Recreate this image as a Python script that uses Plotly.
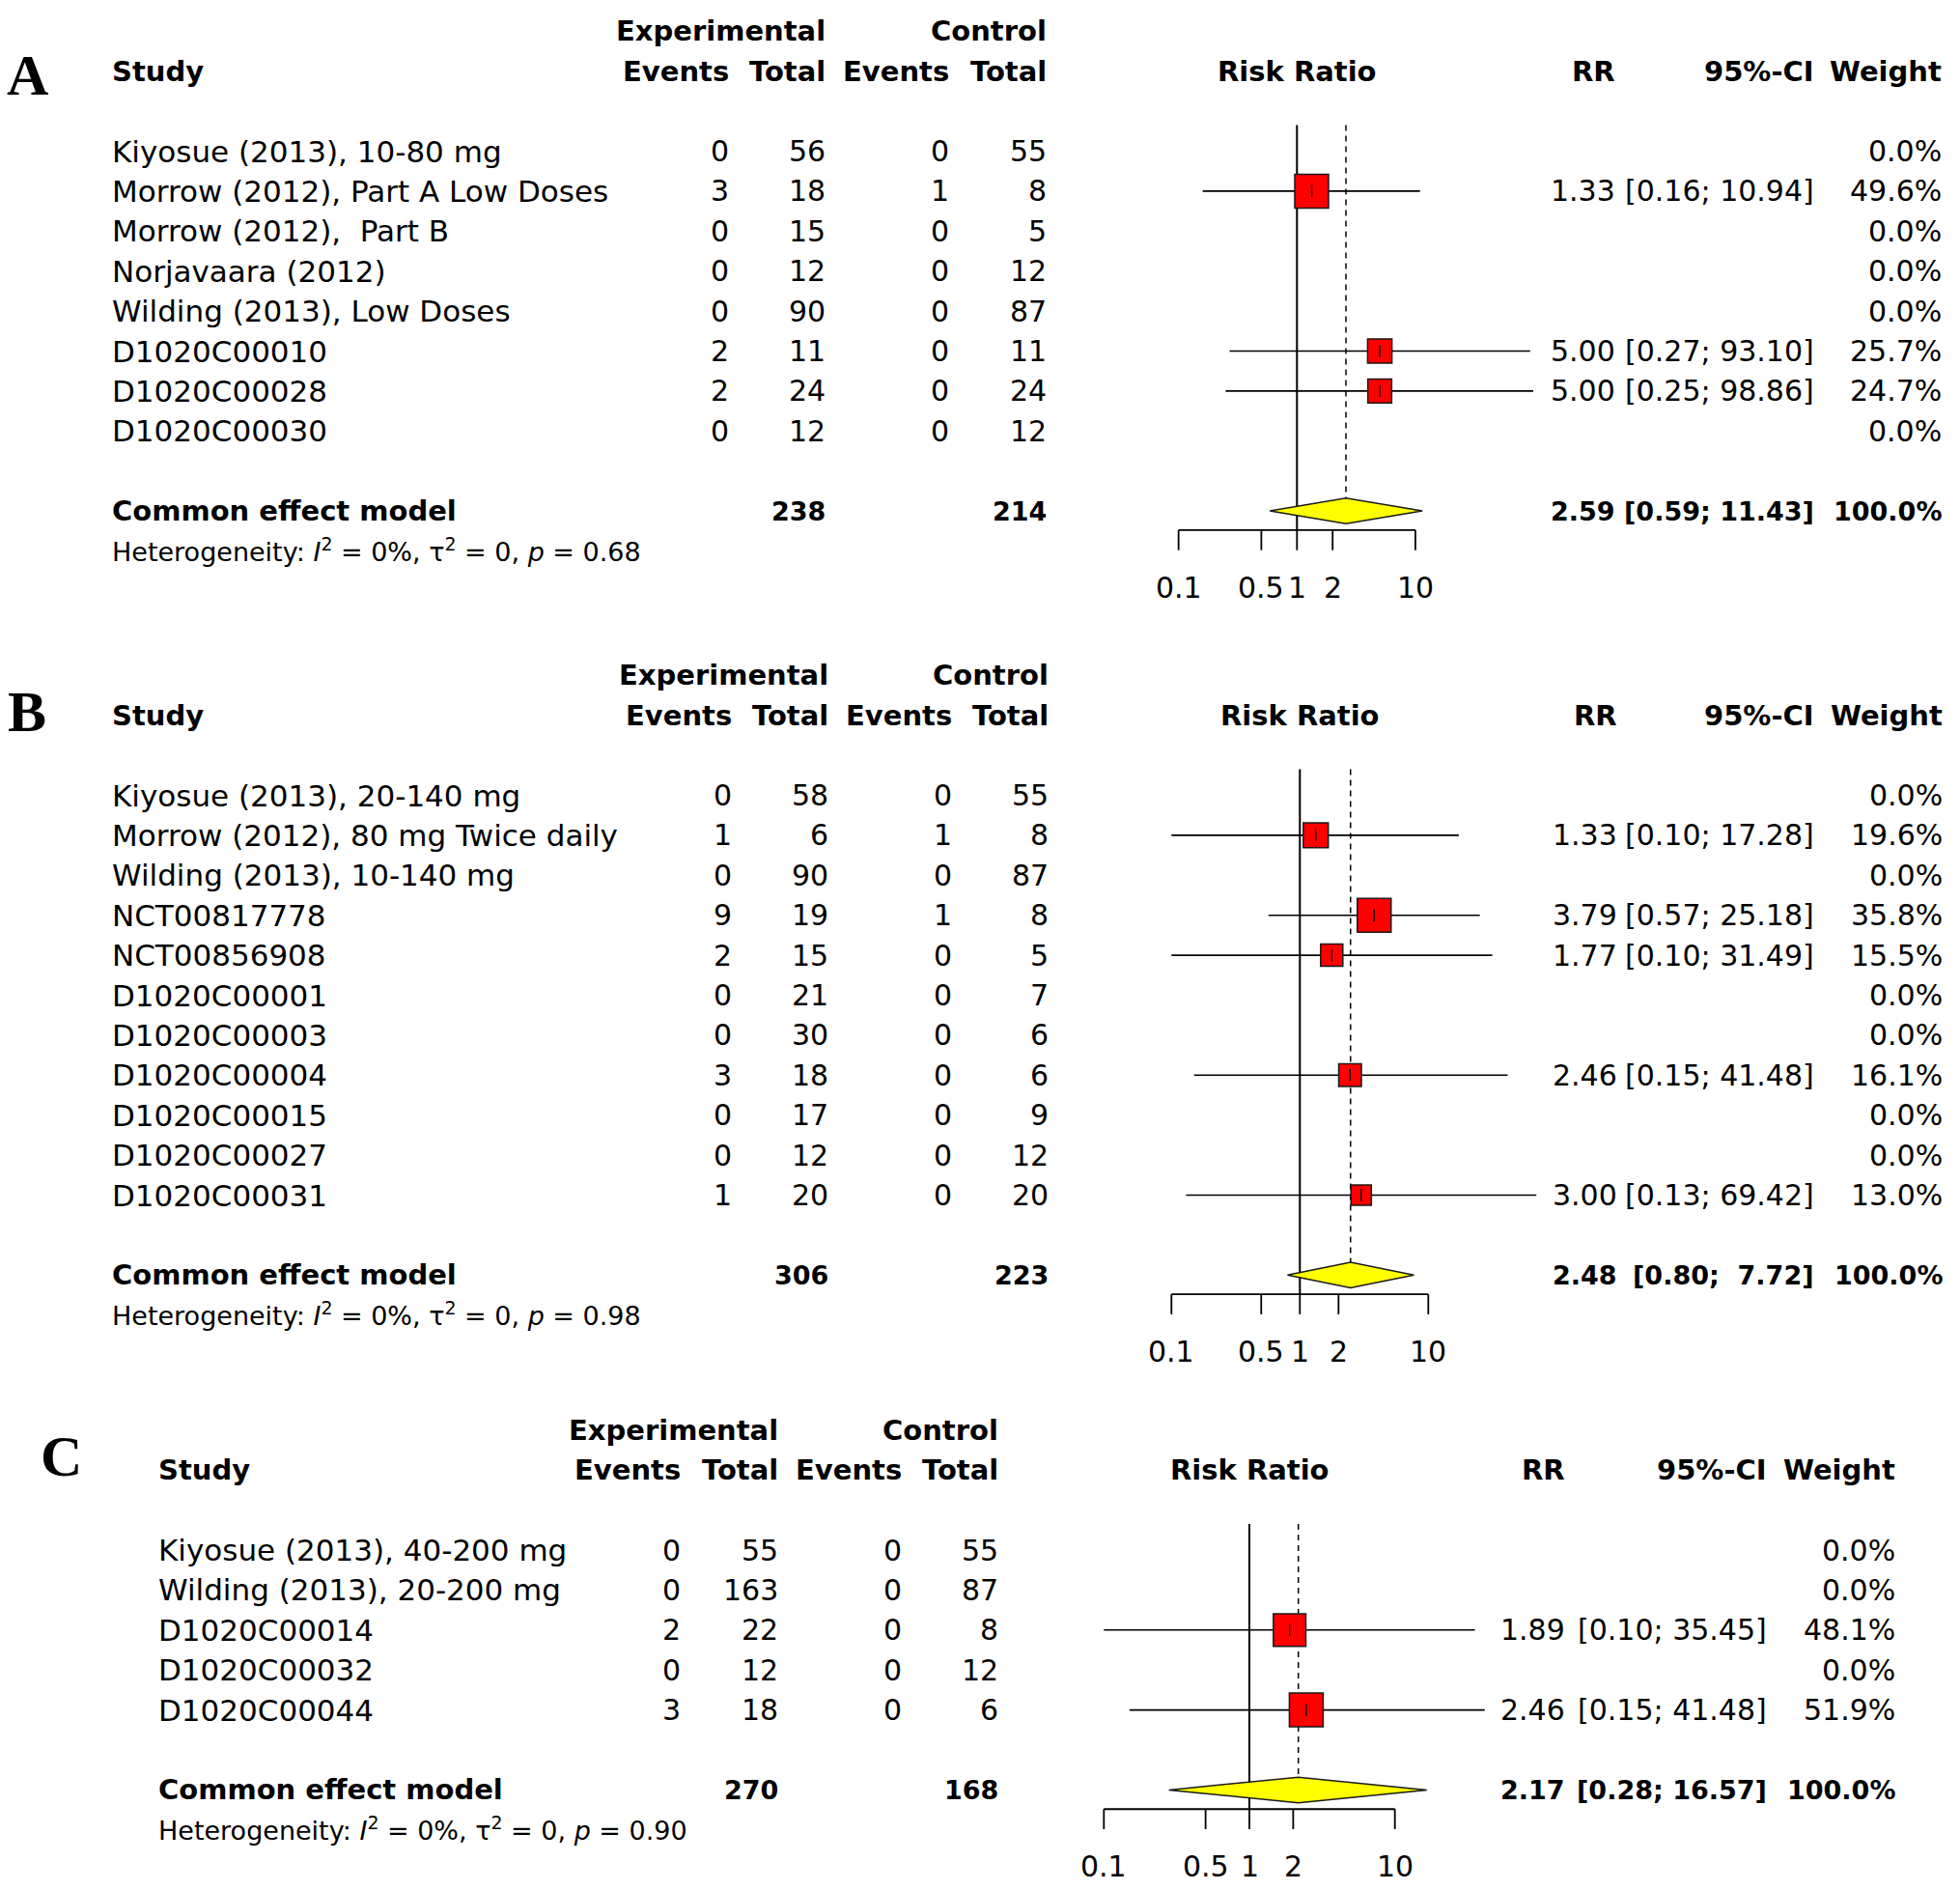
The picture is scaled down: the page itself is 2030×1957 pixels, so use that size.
import numpy as np
import plotly.graph_objects as go

W, H = 2030, 1957
FONT = "DejaVu Sans"
FS = 30        # regular numbers
FS_NAME = 31   # study names
FS_HET = 27    # heterogeneity line
FS_B = 29      # bold labels
FS_BN = 27     # bold numbers

# ---------------- data: panel A ----------------
study_a = ["Kiyosue (2013), 10-80 mg", "Morrow (2012), Part A Low Doses", "Morrow (2012),\u00a0 Part B",
           "Norjavaara (2012)", "Wilding (2013), Low Doses", "D1020C00010", "D1020C00028", "D1020C00030"]
exp_ev_a = [0, 3, 0, 0, 0, 2, 2, 0]
exp_tot_a = [56, 18, 15, 12, 90, 11, 24, 12]
ctl_ev_a = [0, 1, 0, 0, 0, 0, 0, 0]
ctl_tot_a = [55, 8, 5, 12, 87, 11, 24, 12]
rr_a = [None, 1.33, None, None, None, 5.00, 5.00, None]
lo_a = [None, 0.16, None, None, None, 0.27, 0.25, None]
hi_a = [None, 10.94, None, None, None, 93.10, 98.86, None]
wt_a = [0.0, 49.6, 0.0, 0.0, 0.0, 25.7, 24.7, 0.0]
pooled_a = [2.59, 0.59, 11.43]
het_a = [0, 0, 0.68]  # I2 (%), tau2, p

# ---------------- data: panel B ----------------
study_b = ["Kiyosue (2013), 20-140 mg", "Morrow (2012), 80 mg Twice daily", "Wilding (2013), 10-140 mg",
           "NCT00817778", "NCT00856908", "D1020C00001", "D1020C00003", "D1020C00004",
           "D1020C00015", "D1020C00027", "D1020C00031"]
exp_ev_b = [0, 1, 0, 9, 2, 0, 0, 3, 0, 0, 1]
exp_tot_b = [58, 6, 90, 19, 15, 21, 30, 18, 17, 12, 20]
ctl_ev_b = [0, 1, 0, 1, 0, 0, 0, 0, 0, 0, 0]
ctl_tot_b = [55, 8, 87, 8, 5, 7, 6, 6, 9, 12, 20]
rr_b = [None, 1.33, None, 3.79, 1.77, None, None, 2.46, None, None, 3.00]
lo_b = [None, 0.10, None, 0.57, 0.10, None, None, 0.15, None, None, 0.13]
hi_b = [None, 17.28, None, 25.18, 31.49, None, None, 41.48, None, None, 69.42]
wt_b = [0.0, 19.6, 0.0, 35.8, 15.5, 0.0, 0.0, 16.1, 0.0, 0.0, 13.0]
pooled_b = [2.48, 0.80, 7.72]
het_b = [0, 0, 0.98]

# ---------------- data: panel C ----------------
study_c = ["Kiyosue (2013), 40-200 mg", "Wilding (2013), 20-200 mg", "D1020C00014", "D1020C00032", "D1020C00044"]
exp_ev_c = [0, 0, 2, 0, 3]
exp_tot_c = [55, 163, 22, 12, 18]
ctl_ev_c = [0, 0, 0, 0, 0]
ctl_tot_c = [55, 87, 8, 12, 6]
rr_c = [None, None, 1.89, None, 2.46]
lo_c = [None, None, 0.10, None, 0.15]
hi_c = [None, None, 35.45, None, 41.48]
wt_c = [0.0, 0.0, 48.1, 0.0, 51.9]
pooled_c = [2.17, 0.28, 16.57]
het_c = [0, 0, 0.90]

tick_vals = [0.1, 0.5, 1, 2, 10]
tick_text = ["0.1", "0.5", "1", "2", "10"]

# ---------------- layout of each panel (pixels) ----------------
STEP = 41.4
panels = [
    dict(letter="A", letter_x=28, letter_y=78, study_x=114, ev1=757, tot1=857, ev2=985, tot2=1086,
         rr=1675, ci=1881, wt=2013, ax_c=1343.3, ax_d=122.65, row1=156.5, band=(0, 655),
         data=(study_a, exp_ev_a, exp_tot_a, ctl_ev_a, ctl_tot_a, rr_a, lo_a, hi_a, wt_a, pooled_a, het_a)),
    dict(letter="B", letter_x=28, letter_y=737, study_x=114, ev1=760, tot1=860, ev2=988, tot2=1088,
         rr=1677, ci=1881, wt=2014, ax_c=1346.3, ax_d=133.0, row1=823.5, band=(655, 1440),
         data=(study_b, exp_ev_b, exp_tot_b, ctl_ev_b, ctl_tot_b, rr_b, lo_b, hi_b, wt_b, pooled_b, het_b)),
    dict(letter="C", letter_x=64, letter_y=1508, study_x=162, ev1=707, tot1=808, ev2=936, tot2=1036,
         rr=1623, ci=1832, wt=1965, ax_c=1294.0, ax_d=150.7, row1=1605, band=(1440, H),
         data=(study_c, exp_ev_c, exp_tot_c, ctl_ev_c, ctl_tot_c, rr_c, lo_c, hi_c, wt_c, pooled_c, het_c)),
]

fig = go.Figure()
annotations = []
layout_axes = {}


def txt(s, x, y, yref, anchor="right", bold=False, size=FS, family=FONT, xref="paper"):
    annotations.append(dict(
        text=f"<b>{s}</b>" if bold else s, x=x / W if xref == "paper" else x, y=y,
        xref=xref, yref=yref, xanchor=anchor, yanchor="middle", showarrow=False,
        font=dict(family=family, size=size, color="black")))


for i, p in enumerate(panels, start=1):
    study, eev, etot, cev, ctot, rr, lo, hi, wt, pooled, het = p["data"]
    n = len(study)
    xa = "x" if i == 1 else f"x{i}"
    ya = "y" if i == 1 else f"y{i}"
    top, bot = p["band"]
    row_at = lambda pix: 1 + (pix - p["row1"]) / STEP
    layout_axes["xaxis" if i == 1 else f"xaxis{i}"] = dict(
        type="log", domain=[0, 1], anchor=ya, visible=False,
        range=[(0 - p["ax_c"]) / p["ax_d"], (W - p["ax_c"]) / p["ax_d"]])
    layout_axes["yaxis" if i == 1 else f"yaxis{i}"] = dict(
        domain=[1 - bot / H, 1 - top / H], anchor=xa, visible=False,
        range=[row_at(bot), row_at(top)])

    rows = list(range(1, n + 1))
    r_pool = n + 2
    r_axis = n + 2.48
    est, plo, phi = pooled

    # reference line at 1 and dashed pooled line
    fig.add_trace(go.Scatter(x=[1, 1], y=[0.35, r_axis], mode="lines", xaxis=xa, yaxis=ya,
                             line=dict(color="black", width=2), hoverinfo="skip"))
    fig.add_trace(go.Scatter(x=[est, est], y=[0.35, r_pool - 0.32], mode="lines", xaxis=xa, yaxis=ya,
                             line=dict(color="black", width=1.5, dash="6px,5px"), hoverinfo="skip"))

    # confidence intervals
    cx, cy = [], []
    for r, a, b in zip(rows, lo, hi):
        if a is not None:
            cx += [a, b, None]
            cy += [r, r, None]
    fig.add_trace(go.Scatter(x=cx, y=cy, mode="lines", xaxis=xa, yaxis=ya,
                             line=dict(color="black", width=1.6), hoverinfo="skip"))

    # weighted squares
    sx = [v for v in rr if v is not None]
    sy = [r for r, v in zip(rows, rr) if v is not None]
    sw = np.array([w for w, v in zip(wt, rr) if v is not None])
    sizes = 35 * np.sqrt(sw / sw.max())
    fig.add_trace(go.Scatter(x=sx, y=sy, mode="markers", xaxis=xa, yaxis=ya,
                             marker=dict(symbol="square", size=sizes, color="#FF0000", opacity=1,
                                         line=dict(color="#1a1a1a", width=1.5)), hoverinfo="skip"))
    fig.add_trace(go.Scatter(x=sx, y=sy, mode="markers", xaxis=xa, yaxis=ya,
                             marker=dict(symbol="line-ns-open", size=9, color="black",
                                         line=dict(color="black", width=1.3)), hoverinfo="skip"))

    # pooled diamond
    fig.add_trace(go.Scatter(x=[plo, est, phi, est, plo],
                             y=[r_pool, r_pool - 0.32, r_pool, r_pool + 0.32, r_pool],
                             mode="lines", fill="toself", fillcolor="#FFFF00", xaxis=xa, yaxis=ya,
                             line=dict(color="#1a1a1a", width=1.5), hoverinfo="skip"))

    # drawn x axis
    axx, axy = [tick_vals[0], tick_vals[-1], None], [r_axis, r_axis, None]
    for v in tick_vals:
        axx += [v, v, None]
        axy += [r_axis, r_axis + 0.5, None]
    fig.add_trace(go.Scatter(x=axx, y=axy, mode="lines", xaxis=xa, yaxis=ya,
                             line=dict(color="black", width=1.8), hoverinfo="skip"))
    for v, t in zip(tick_vals, tick_text):
        txt(t, np.log10(v), n + 3.92, ya, anchor="center", xref=xa)

    # headers
    annotations.append(dict(text=f"<b>{p['letter']}</b>", x=p["letter_x"] / W, y=1 - p["letter_y"] / H,
                            xref="paper", yref="paper", xanchor="center", yanchor="middle",
                            showarrow=False, font=dict(family="Liberation Serif", size=60, color="black")))
    txt("Experimental", p["tot1"], -2, ya, bold=True, size=FS_B)
    txt("Control", p["tot2"], -2, ya, bold=True, size=FS_B)
    txt("Study", p["study_x"], -1, ya, anchor="left", bold=True, size=FS_B)
    txt("Events", p["ev1"], -1, ya, bold=True, size=FS_B)
    txt("Total", p["tot1"], -1, ya, bold=True, size=FS_B)
    txt("Events", p["ev2"], -1, ya, bold=True, size=FS_B)
    txt("Total", p["tot2"], -1, ya, bold=True, size=FS_B)
    txt("Risk Ratio", 0, -1, ya, anchor="center", bold=True, size=FS_B, xref=xa)
    txt("RR", p["rr"], -1, ya, bold=True, size=FS_B)
    txt("95%-CI", p["ci"], -1, ya, bold=True, size=FS_B)
    txt("Weight", p["wt"], -1, ya, bold=True, size=FS_B)

    # study rows
    his = [f"{v:.2f}" for v in hi if v is not None] + [f"{phi:.2f}"]
    hw = max(len(s) for s in his)
    fmt_ci = lambda a, b: f"[{a:.2f}; " + "\u00a0" * (hw - len(f"{b:.2f}")) + f"{b:.2f}]"
    for r, s, a1, a2, b1, b2, v, a, b, w in zip(rows, study, eev, etot, cev, ctot, rr, lo, hi, wt):
        txt(s, p["study_x"], r, ya, anchor="left", size=FS_NAME)
        txt(str(a1), p["ev1"], r, ya)
        txt(str(a2), p["tot1"], r, ya)
        txt(str(b1), p["ev2"], r, ya)
        txt(str(b2), p["tot2"], r, ya)
        if v is not None:
            txt(f"{v:.2f}", p["rr"], r, ya)
            txt(fmt_ci(a, b), p["ci"], r, ya)
        txt(f"{w:.1f}%", p["wt"], r, ya)

    # pooled row
    txt("Common effect model", p["study_x"], r_pool, ya, anchor="left", bold=True, size=FS_B)
    txt(str(sum(etot)), p["tot1"], r_pool, ya, bold=True, size=FS_BN)
    txt(str(sum(ctot)), p["tot2"], r_pool, ya, bold=True, size=FS_BN)
    txt(f"{est:.2f}", p["rr"], r_pool, ya, bold=True, size=FS_BN)
    txt(fmt_ci(plo, phi), p["ci"], r_pool, ya, bold=True, size=FS_BN)
    txt("100.0%", p["wt"], r_pool, ya, bold=True, size=FS_BN)
    i2, tau2, pv = het
    txt(f"Heterogeneity: <i>I</i><sup>2</sup> = {i2}%, \u03c4<sup>2</sup> = {tau2}, <i>p</i> = {pv:.2f}",
        p["study_x"], n + 2.98, ya, anchor="left", size=FS_HET)

fig.update_layout(
    width=W, height=H, autosize=False,
    margin=dict(l=0, r=0, t=0, b=0),
    paper_bgcolor="white", plot_bgcolor="white",
    showlegend=False, annotations=annotations, **layout_axes)

fig.write_html("out.html", config={"displayModeBar": False},
               post_script="document.body.style.margin='0';document.body.style.overflow='hidden';")
